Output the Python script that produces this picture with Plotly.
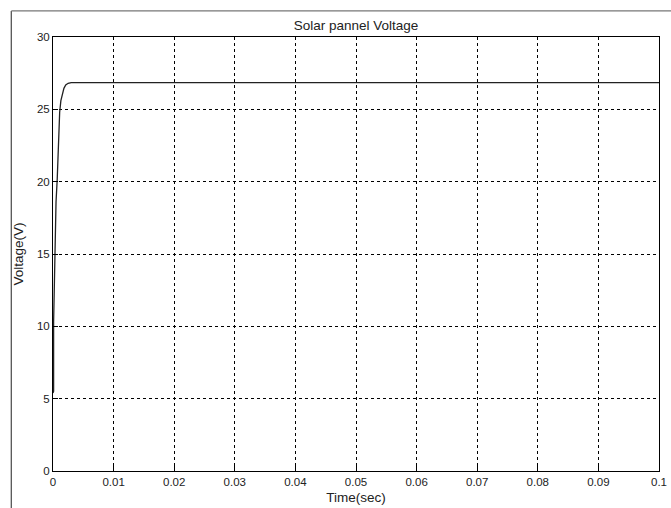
import plotly.graph_objects as go

time_s = [0, 0.0001, 0.0001, 0.0002, 0.0003, 0.0005, 0.0007, 0.0009, 0.0011, 0.0013,
          0.0015, 0.0018, 0.0021, 0.0025, 0.003, 0.004, 0.1]
voltage = [5.4, 5.5, 10.3, 12.8, 15.8, 18.6, 20.2, 22.6, 24.8, 25.6,
           26.05, 26.45, 26.68, 26.8, 26.85, 26.85, 26.85]

x_ticks = [0, 0.01, 0.02, 0.03, 0.04, 0.05, 0.06, 0.07, 0.08, 0.09, 0.1]
x_labels = ["0", "0.01", "0.02", "0.03", "0.04", "0.05", "0.06", "0.07", "0.08", "0.09", "0.1"]
y_ticks = [0, 5, 10, 15, 20, 25, 30]

fig = go.Figure()
fig.add_trace(go.Scatter(x=time_s, y=voltage, mode="lines",
                         line=dict(color="#222222", width=1.3), showlegend=False))

axis_common = dict(
    showline=True, linecolor="black", linewidth=1, mirror=True,
    showgrid=True, gridcolor="black", gridwidth=1, griddash="3px,3px",
    ticks="inside", ticklen=5, tickcolor="black",
    zeroline=False, automargin=False,
    tickfont=dict(family="Liberation Sans, Arial", size=11.5, color="#222"),
)

fig.update_layout(
    width=671, height=508,
    paper_bgcolor="white", plot_bgcolor="white",
    margin=dict(l=53, r=12, t=37, b=37),
    title=dict(text="Solar pannel Voltage", x=0.5, xanchor="center", xref="paper",
               y=1 - 25/508, yanchor="middle", automargin=False,
               font=dict(family="Liberation Sans, Arial", size=13.5, color="#222")),
    xaxis=dict(range=[0, 0.1], tickvals=x_ticks, ticktext=x_labels,
               title=dict(text="Time(sec)", standoff=5,
                          font=dict(family="Liberation Sans, Arial", size=13.5, color="#222")),
               **axis_common),
    yaxis=dict(range=[0, 30], tickvals=y_ticks,
               title=dict(text="Voltage(V)", standoff=10,
                          font=dict(family="Liberation Sans, Arial", size=13.5, color="#222")),
               **axis_common),
    shapes=[
        dict(type="line", xref="paper", yref="paper", x0=-0.0688, x1=-0.0688, y0=1.06, y1=-0.1,
             line=dict(color="#555", width=1.3)),
        dict(type="line", xref="paper", yref="paper", x0=-0.0688, x1=1.03, y0=1.06, y1=1.06,
             line=dict(color="#777", width=1.3)),
    ],
)

fig.write_html("out.html", config={"displayModeBar": False},
               post_script="document.body.style.margin='0';document.body.style.overflow='hidden';")
